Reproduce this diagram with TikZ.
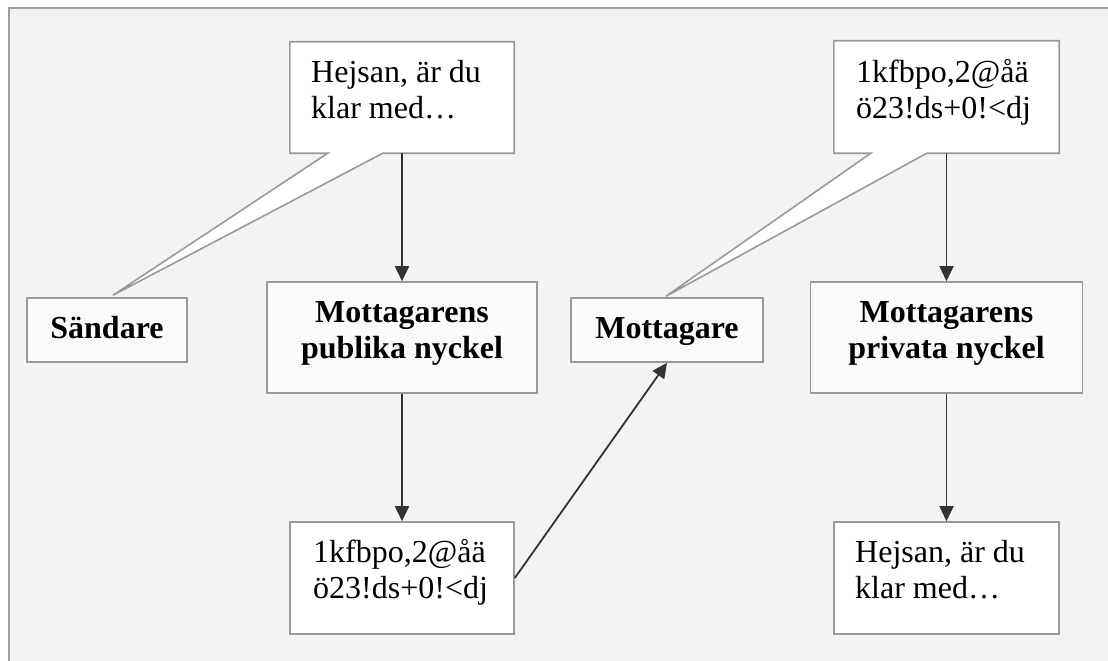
\documentclass[tikz,border=0pt]{standalone}
\usepackage{fontspec}
\setmainfont{Liberation Serif}
\usetikzlibrary{arrows.meta,calc}
\definecolor{canvas}{HTML}{F3F3F3}
\definecolor{rim}{HTML}{9E9E9E}
\definecolor{boxedge}{HTML}{9A9A9A}
\definecolor{ink}{HTML}{333333}
\begin{document}
\begin{tikzpicture}[x=1pt,y=-1pt,
  panel/.style={draw=boxedge, line width=1.6pt, inner sep=0pt},
  keybox/.style={panel, fill=white!98!black},
  msgbox/.style={panel, fill=white},
  bubble/.style={draw=boxedge, line width=1.6pt, fill=white, line join=miter},
  slot/.style={inner sep=0pt},
  flow/.style={draw=ink, line width=1.8pt, -{Triangle[length=15pt,width=14pt]}},
  plain/.style={inner sep=0pt, font=\fontsize{32pt}{36pt}\selectfont, align=left, anchor=base west},
  strong/.style={inner sep=0pt, font=\fontsize{32pt}{36pt}\selectfont\bfseries, align=center, anchor=base}
]
\useasboundingbox (0,0) rectangle (1108,661);
\clip (0,0) rectangle (1108,661);
\fill[white] (0,0) rectangle (1108,661);
% canvas with its frame running off the right and bottom edges
\fill[canvas] (9,8) rectangle (1120,680);
\draw[rim, line width=1.5pt] (9,680) -- (9,8) -- (1120,8);

% boxes
\node[keybox, minimum width=160pt, minimum height=64pt] (send) at (107,330) {};
\node[keybox, minimum width=270pt, minimum height=111pt] (pub) at (402,337.5) {};
\node[msgbox, minimum width=224pt, minimum height=112pt] (cipherA) at (402,578) {};
\node[keybox, minimum width=192pt, minimum height=64pt] (recv) at (667,330) {};
\node[keybox, minimum width=272pt, minimum height=111pt] (priv) at (946.5,337.5) {};
\node[msgbox, minimum width=225pt, minimum height=112pt] (plainB) at (946.5,578) {};

% speech bubbles
\node[slot, minimum width=224pt, minimum height=111pt] (bubA) at (402,97.5) {};
\node[slot, minimum width=225pt, minimum height=112pt] (bubB) at (946.5,97) {};
\coordinate (tipA) at ($(send.north)+(6,-2)$);
\coordinate (tipB) at ($(recv.north)+(-1,-1)$);
\draw[bubble] (bubA.north west) -- (bubA.north east) -- (bubA.south east)
  -- ($(bubA.south west)+(93,0)$) -- (tipA) -- ($(bubA.south west)+(38,0)$)
  -- (bubA.south west) -- cycle;
\draw[bubble] (bubB.north west) -- (bubB.north east) -- (bubB.south east)
  -- ($(bubB.south west)+(93,0)$) -- (tipB) -- ($(bubB.south west)+(37,0)$)
  -- (bubB.south west) -- cycle;

% texts (base anchor sits on the last line)
\node[plain] (tA) at (311,118) {Hejsan, är du\\klar med…};
\node[plain] (tB) at (856,118.5) {1kfbpo,2@åä\\ö23!ds+0!<dj};
\node[strong] (tsend) at (107,338) {Sändare};
\node[strong] (tpub) at (402,358) {Mottagarens\\publika nyckel};
\node[plain] (tcipher) at (313,598) {1kfbpo,2@åä\\ö23!ds+0!<dj};
\node[strong] (trecv) at (667,338) {Mottagare};
\node[strong] (tpriv) at (946.5,358) {Mottagarens\\privata nyckel};
\node[plain] (tplain) at (855,598) {Hejsan, är du\\klar med…};

% connectors
\draw[flow] (bubA.south) -- (pub.north);
\draw[flow] (pub.south) -- (cipherA.north);
\draw[flow] (cipherA.east) -- (recv.south);
\draw[flow] (bubB.south) -- (priv.north);
\draw[flow] (priv.south) -- (plainB.north);
\end{tikzpicture}
\end{document}
